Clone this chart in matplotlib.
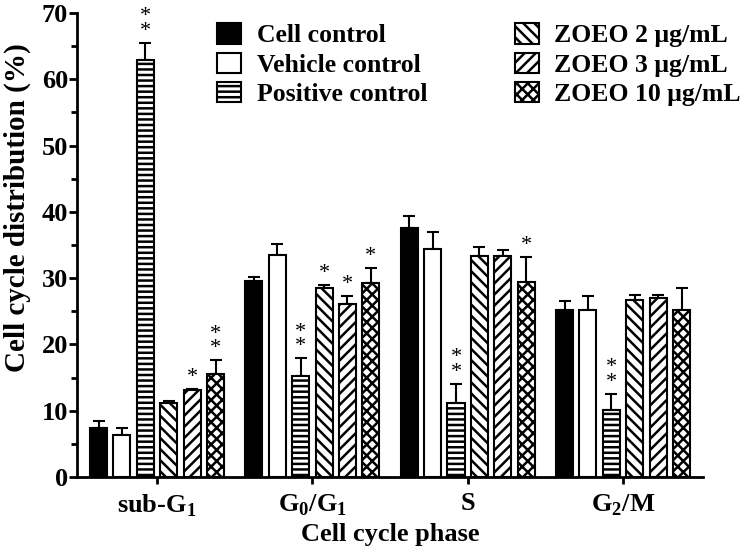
import numpy as np
import matplotlib
matplotlib.use("Agg")
import matplotlib.pyplot as plt

plt.rcParams['font.family'] = 'Liberation Serif'
plt.rcParams['font.weight'] = 'bold'
plt.rcParams['mathtext.fontset'] = 'custom'
plt.rcParams['mathtext.rm'] = 'Liberation Serif'
plt.rcParams['hatch.linewidth'] = 1.8

phases = [r'sub-G$_1$', r'G$_0$/G$_1$', 'S', r'G$_2$/M']
groups = ['Cell control', 'Vehicle control', 'Positive control',
          'ZOEO 2 μg/mL', 'ZOEO 3 μg/mL', 'ZOEO 10 μg/mL']

means = {
    'Cell control':     [7.4, 29.6, 37.5, 25.2],
    'Vehicle control':  [6.3, 33.5, 34.4, 25.2],
    'Positive control': [62.9, 15.2, 11.1, 10.1],
    'ZOEO 2 μg/mL':     [11.1, 28.5, 33.3, 26.7],
    'ZOEO 3 μg/mL':     [13.1, 26.1, 33.3, 27.0],
    'ZOEO 10 μg/mL':    [15.5, 29.3, 29.4, 25.2],
}
errors = {
    'Cell control':     [1.0, 0.5, 1.9, 1.4],
    'Vehicle control':  [1.1, 1.6, 2.5, 2.1],
    'Positive control': [2.6, 2.7, 2.9, 2.4],
    'ZOEO 2 μg/mL':     [0.3, 0.5, 1.4, 0.8],
    'ZOEO 3 μg/mL':     [0.2, 1.2, 0.9, 0.5],
    'ZOEO 10 μg/mL':    [2.1, 2.2, 3.8, 3.3],
}
stars = {
    'Cell control':     ['', '', '', ''],
    'Vehicle control':  ['', '', '', ''],
    'Positive control': ['**', '**', '**', '**'],
    'ZOEO 2 μg/mL':     ['', '*', '', ''],
    'ZOEO 3 μg/mL':     ['*', '*', '', ''],
    'ZOEO 10 μg/mL':    ['**', '*', '*', ''],
}

colors = ['black', 'white', 'white', 'white', 'white', 'white']
hatches = [None, None, '---', '\\\\\\', '///', 'xxx']

fig = plt.figure(figsize=(7.5, 5.49), dpi=100)
ax = fig.add_axes([0.1027, 0.1311, 0.8347, 0.8452])

x = np.arange(len(phases))
pitch = 0.1507
width = 0.11

for i, g in enumerate(groups):
    pos = x + (i - 2.5) * pitch
    ax.bar(pos, means[g], width, color=colors[i], edgecolor='black',
           hatch=hatches[i], linewidth=1.5, label=g, zorder=2)
    ax.errorbar(pos, means[g], yerr=[np.zeros(4), errors[g]], fmt='none',
                ecolor='black', elinewidth=1.5, capsize=4, capthick=1.5,
                zorder=1)
    for p, m, e, s in zip(pos, means[g], errors[g], stars[g]):
        if s:
            ax.text(p, m + e + 0.3, '\n'.join(s), ha='center', va='bottom',
                    fontsize=16, fontweight='normal', linespacing=0.7)

ax.set_xlim(-0.515, 3.515)
ax.set_ylim(0, 70)
ax.set_yticks(np.arange(0, 71, 10))
ax.set_yticks(np.arange(5, 70, 10), minor=True)
ax.set_xticks(x)
ax.set_xticklabels(phases)
ax.tick_params(axis='y', labelsize=19, width=2, length=6, direction='out', pad=0.5)
ax.tick_params(axis='x', labelsize=19, width=2, length=5, direction='out', pad=6)
ax.tick_params(axis='y', which='minor', width=2, length=4)
for lab in ax.get_xticklabels() + ax.get_yticklabels():
    lab.set_fontweight('bold')

for s in ['top', 'right']:
    ax.spines[s].set_visible(False)
for s in ['left', 'bottom']:
    ax.spines[s].set_linewidth(2)

ax.set_ylabel('Cell cycle distribution (%)', fontsize=21, fontweight='bold')
ax.yaxis.set_label_coords(-0.074, 0.58)
ax.set_xlabel('Cell cycle phase', fontsize=19, fontweight='bold')
ax.xaxis.set_label_coords(0.5, -0.1)

ax.legend(ncol=2, frameon=False, fontsize=18.5, loc='upper left',
          bbox_to_anchor=(0.207, 1.0), handlelength=0.95, handleheight=0.85,
          handletextpad=0.6, labelspacing=0.2, columnspacing=3.4,
          borderaxespad=0.0)

fig.savefig('out.png', dpi=100)
